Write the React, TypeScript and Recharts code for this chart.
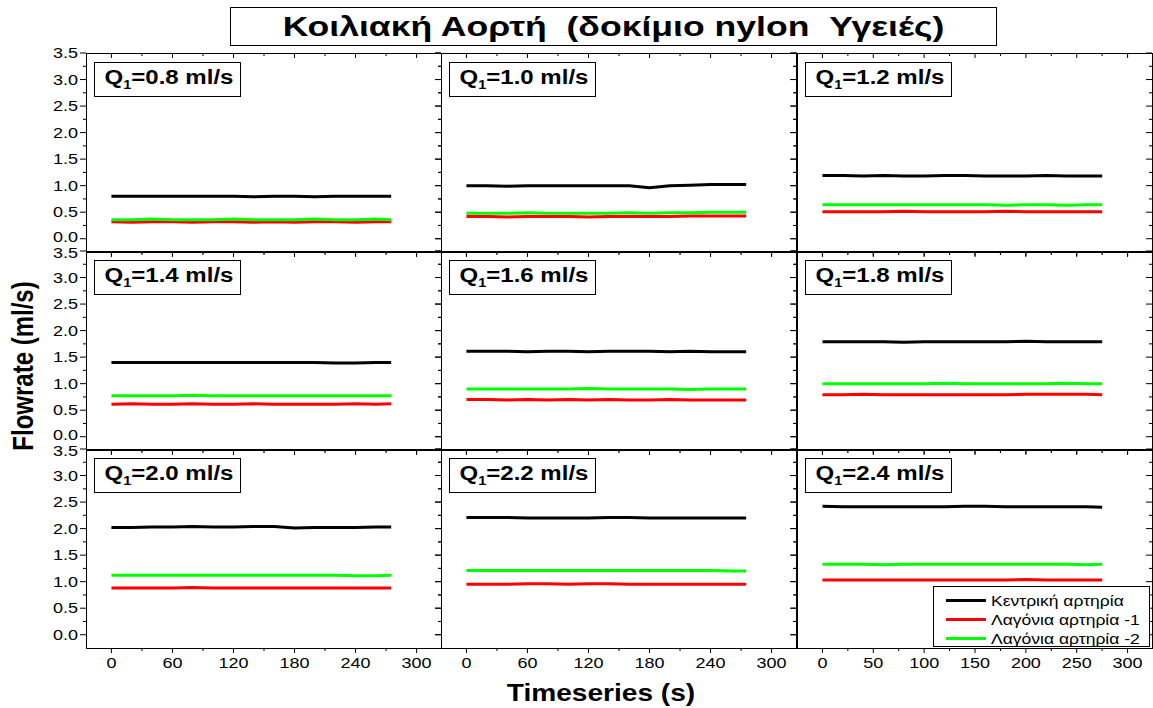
import { LineChart, Line, XAxis, YAxis, Legend } from 'recharts'

// time stamps (s) shared by every panel
const TIME = [0, 20, 40, 60, 80, 100, 120, 140, 160, 180, 200, 220, 240, 260, 275]

const Y_TICKS = [0, 0.25, 0.5, 0.75, 1, 1.25, 1.5, 1.75, 2, 2.25, 2.5, 2.75, 3, 3.25, 3.5]
const X_TICKS_60 = [0, 30, 60, 90, 120, 150, 180, 210, 240, 270, 300]
const X_TICKS_50 = [0, 25, 50, 75, 100, 125, 150, 175, 200, 225, 250, 275, 300]

const SERIES_NAMES = ['Κεντρική αρτηρία', 'Λαγόνια αρτηρία -1', 'Λαγόνια αρτηρία -2']
const Q_LABELS = ['0.8', '1.0', '1.2', '1.4', '1.6', '1.8', '2.0', '2.2', '2.4']

// central artery
const central08 = [0.80, 0.80, 0.80, 0.80, 0.80, 0.80, 0.80, 0.79, 0.80, 0.80, 0.79, 0.80, 0.80, 0.80, 0.80]
const central10 = [1.00, 1.00, 0.99, 1.00, 1.00, 1.00, 1.00, 1.00, 1.00, 0.96, 1.00, 1.01, 1.02, 1.02, 1.02]
const central12 = [1.19, 1.19, 1.18, 1.19, 1.18, 1.18, 1.19, 1.19, 1.18, 1.18, 1.18, 1.19, 1.18, 1.18, 1.18]
const central14 = [1.40, 1.40, 1.40, 1.40, 1.40, 1.40, 1.40, 1.40, 1.40, 1.40, 1.40, 1.39, 1.39, 1.40, 1.40]
const central16 = [1.61, 1.61, 1.61, 1.60, 1.61, 1.61, 1.60, 1.61, 1.61, 1.61, 1.60, 1.61, 1.60, 1.60, 1.60]
const central18 = [1.79, 1.79, 1.79, 1.79, 1.78, 1.79, 1.79, 1.79, 1.79, 1.79, 1.80, 1.79, 1.79, 1.79, 1.79]
const central20 = [2.02, 2.02, 2.03, 2.03, 2.04, 2.03, 2.03, 2.04, 2.04, 2.01, 2.02, 2.02, 2.02, 2.03, 2.03]
const central22 = [2.21, 2.21, 2.21, 2.20, 2.20, 2.20, 2.20, 2.21, 2.21, 2.20, 2.20, 2.20, 2.20, 2.20, 2.20]
const central24 = [2.42, 2.41, 2.41, 2.41, 2.41, 2.41, 2.41, 2.42, 2.42, 2.41, 2.41, 2.41, 2.41, 2.41, 2.40]

// iliac artery 1 (red)
const iliacA08 = [0.32, 0.31, 0.32, 0.32, 0.31, 0.32, 0.32, 0.31, 0.32, 0.31, 0.32, 0.32, 0.31, 0.32, 0.32]
const iliacA10 = [0.42, 0.42, 0.41, 0.42, 0.42, 0.42, 0.41, 0.42, 0.42, 0.42, 0.42, 0.43, 0.43, 0.43, 0.43]
const iliacA12 = [0.51, 0.51, 0.51, 0.51, 0.52, 0.51, 0.51, 0.51, 0.51, 0.52, 0.51, 0.51, 0.51, 0.51, 0.51]
const iliacA14 = [0.61, 0.62, 0.61, 0.61, 0.62, 0.61, 0.61, 0.62, 0.61, 0.61, 0.61, 0.61, 0.62, 0.61, 0.62]
const iliacA16 = [0.70, 0.70, 0.69, 0.70, 0.69, 0.70, 0.69, 0.70, 0.69, 0.69, 0.70, 0.69, 0.69, 0.69, 0.69]
const iliacA18 = [0.79, 0.79, 0.80, 0.79, 0.79, 0.79, 0.79, 0.79, 0.79, 0.79, 0.80, 0.80, 0.80, 0.80, 0.79]
const iliacA20 = [0.88, 0.88, 0.88, 0.88, 0.89, 0.88, 0.88, 0.88, 0.88, 0.88, 0.88, 0.88, 0.88, 0.88, 0.88]
const iliacA22 = [0.95, 0.95, 0.95, 0.96, 0.96, 0.95, 0.96, 0.96, 0.95, 0.95, 0.95, 0.95, 0.95, 0.95, 0.95]
const iliacA24 = [1.03, 1.03, 1.03, 1.03, 1.03, 1.03, 1.03, 1.03, 1.03, 1.03, 1.04, 1.03, 1.03, 1.03, 1.03]

// iliac artery 2 (green)
const iliacB08 = [0.36, 0.36, 0.37, 0.36, 0.36, 0.36, 0.37, 0.36, 0.36, 0.36, 0.37, 0.36, 0.36, 0.37, 0.36]
const iliacB10 = [0.48, 0.48, 0.48, 0.49, 0.48, 0.48, 0.48, 0.48, 0.49, 0.48, 0.49, 0.49, 0.50, 0.50, 0.50]
const iliacB12 = [0.64, 0.64, 0.64, 0.64, 0.64, 0.64, 0.64, 0.64, 0.64, 0.63, 0.64, 0.64, 0.63, 0.64, 0.64]
const iliacB14 = [0.77, 0.77, 0.77, 0.77, 0.78, 0.77, 0.77, 0.77, 0.77, 0.77, 0.77, 0.77, 0.77, 0.77, 0.77]
const iliacB16 = [0.90, 0.90, 0.90, 0.90, 0.90, 0.90, 0.91, 0.90, 0.90, 0.90, 0.90, 0.89, 0.90, 0.90, 0.90]
const iliacB18 = [1.00, 1.00, 1.00, 1.00, 1.00, 1.00, 1.01, 1.00, 1.00, 1.00, 1.00, 1.00, 1.01, 1.00, 1.00]
const iliacB20 = [1.12, 1.12, 1.12, 1.12, 1.12, 1.12, 1.12, 1.12, 1.12, 1.12, 1.12, 1.12, 1.11, 1.11, 1.12]
const iliacB22 = [1.21, 1.21, 1.21, 1.21, 1.21, 1.21, 1.21, 1.21, 1.21, 1.21, 1.21, 1.21, 1.21, 1.20, 1.20]
const iliacB24 = [1.33, 1.33, 1.33, 1.32, 1.33, 1.33, 1.33, 1.33, 1.33, 1.33, 1.33, 1.33, 1.33, 1.32, 1.33]

const CENTRAL = [central08, central10, central12, central14, central16, central18, central20, central22, central24]
const ILIAC_A = [iliacA08, iliacA10, iliacA12, iliacA14, iliacA16, iliacA18, iliacA20, iliacA22, iliacA24]
const ILIAC_B = [iliacB08, iliacB10, iliacB12, iliacB14, iliacB16, iliacB18, iliacB20, iliacB22, iliacB24]

const FONT = '"Liberation Sans", Arial, sans-serif'
const PANEL_W = 355
const PANEL_H = 199
const PAD = 44
const COL_X = [86, 441, 797]
const ROW_Y = [53, 251, 449]
const X_DOMAIN = [-25, 324]
const Y_DOMAIN = [-0.25, 3.5]
const STRETCH = 1.2

function XTick(props: any) {
  const { x, y, payload, step, showLabel } = props
  const v = payload.value
  const major = v % step === 0
  const len = major ? 5 : 3
  return (
    <g>
      <line x1={x} y1={y} x2={x} y2={y + len} stroke="#000" />
      <line x1={x} y1={y - PANEL_H} x2={x} y2={y - PANEL_H + len} stroke="#000" />
      {showLabel && major && (
        <text
          transform={`translate(${x},${y + 15}) scale(${STRETCH},1)`}
          textAnchor="middle"
          dominantBaseline="central"
          fontSize={15}
          fontFamily={FONT}
          fill="#000"
        >
          {v}
        </text>
      )}
    </g>
  )
}

function YTick(props: any) {
  const { x, y, payload, showLabel, row } = props
  const v = payload.value
  const major = Math.abs(v * 2 - Math.round(v * 2)) < 1e-6
  const len = major ? 6 : 3
  // the 0.0 of one row and the 3.5 of the next sit almost on top of each other
  let dy = 0
  if (v === 0 && row < 2) dy = -2
  if (v === 3.5 && row > 0) dy = 2.5
  return (
    <g>
      <line x1={x} y1={y} x2={x - len} y2={y} stroke="#000" />
      <line x1={x + PANEL_W} y1={y} x2={x + PANEL_W - len} y2={y} stroke="#000" />
      {showLabel && major && (
        <text
          transform={`translate(${x - 8},${y + dy}) scale(${STRETCH},1)`}
          textAnchor="end"
          dominantBaseline="central"
          fontSize={15}
          fontFamily={FONT}
          fill="#000"
        >
          {v.toFixed(1)}
        </text>
      )}
    </g>
  )
}

function LegendBox(props: any) {
  const { payload } = props
  return (
    <div
      style={{
        width: 217,
        height: 61,
        boxSizing: 'border-box',
        border: '1px solid #000',
        background: '#fff',
        paddingTop: 4,
      }}
    >
      {(payload || []).map((p: any) => (
        <div key={p.value} style={{ height: 19, display: 'flex', alignItems: 'center' }}>
          <svg width={57} height={19}>
            <line x1={12} y1={9.5} x2={52} y2={9.5} stroke={p.color} strokeWidth={3} />
          </svg>
          <span
            style={{
              fontFamily: FONT,
              fontSize: 14,
              color: '#000',
              whiteSpace: 'pre',
              display: 'inline-block',
              transform: `scaleX(${STRETCH + 0.05})`,
              transformOrigin: 'left center',
            }}
          >
            {p.value}
          </span>
        </div>
      ))}
    </div>
  )
}

function Panel({ index }: { index: number }) {
  const col = index % 3
  const row = Math.floor(index / 3)
  const rows = TIME.map((t, i) => ({
    t,
    central: CENTRAL[index][i],
    iliacA: ILIAC_A[index][i],
    iliacB: ILIAC_B[index][i],
  }))
  const xTicks = col === 2 ? X_TICKS_50 : X_TICKS_60
  const step = col === 2 ? 50 : 60
  const left = COL_X[col]
  const top = ROW_Y[row]

  return (
    <>
      <div style={{ position: 'absolute', left: left - PAD, top: top - PAD }}>
        <LineChart
          width={PANEL_W + 2 * PAD}
          height={PANEL_H + 2 * PAD}
          data={rows}
          margin={{ top: PAD, right: PAD, bottom: PAD - 1, left: PAD - 1 }}
        >
          <XAxis
            dataKey="t"
            type="number"
            domain={X_DOMAIN}
            allowDataOverflow
            ticks={xTicks}
            interval={0}
            height={1}
            tickSize={0}
            tickMargin={0}
            axisLine={false}
            tickLine={false}
            tick={(p: any) => <XTick {...p} step={step} showLabel={row === 2} />}
          />
          <YAxis
            type="number"
            domain={Y_DOMAIN}
            allowDataOverflow
            ticks={Y_TICKS}
            interval={0}
            width={1}
            tickSize={0}
            tickMargin={0}
            axisLine={false}
            tickLine={false}
            tick={(p: any) => <YTick {...p} row={row} showLabel={col === 0} />}
          />
          <Line type="linear" dataKey="central" name={SERIES_NAMES[0]} stroke="#000000" strokeWidth={3} dot={false} isAnimationActive={false} />
          <Line type="linear" dataKey="iliacA" name={SERIES_NAMES[1]} stroke="#ff0000" strokeWidth={3} dot={false} isAnimationActive={false} />
          <Line type="linear" dataKey="iliacB" name={SERIES_NAMES[2]} stroke="#00ff00" strokeWidth={3} dot={false} isAnimationActive={false} />
          {index === 8 && (
            <Legend
              layout="vertical"
              align="center"
              verticalAlign="middle"
              content={(p: any) => <LegendBox {...p} />}
              wrapperStyle={{ left: PAD + 136, top: PAD + 137, width: 217, height: 61 }}
            />
          )}
        </LineChart>
      </div>
      <div
        style={{
          position: 'absolute',
          left,
          top,
          width: PANEL_W + 1,
          height: PANEL_H + 1,
          boxSizing: 'border-box',
          border: '1px solid #000',
          pointerEvents: 'none',
        }}
      />
      <div
        style={{
          position: 'absolute',
          left: left + 8,
          top: top + 9,
          width: 147,
          height: 35,
          boxSizing: 'border-box',
          border: '1.5px solid #000',
          background: '#fff',
          overflow: 'hidden',
        }}
      >
        <div
          style={{
            fontFamily: FONT,
            fontWeight: 'bold',
            fontSize: 20,
            lineHeight: '29px',
            paddingLeft: 8,
            whiteSpace: 'pre',
            transform: `scaleX(${STRETCH})`,
            transformOrigin: 'left center',
          }}
        >
          Q<sub style={{ fontSize: 12, verticalAlign: -5 }}>1</sub>={Q_LABELS[index]} ml/s
        </div>
      </div>
    </>
  )
}

export default function App() {
  return (
    <div
      style={{
        position: 'absolute',
        left: 0,
        top: 0,
        width: 1153,
        height: 708,
        background: '#fff',
        overflow: 'hidden',
        fontFamily: FONT,
      }}
    >
      <div
        style={{
          position: 'absolute',
          left: 230,
          top: 7,
          width: 767,
          height: 39,
          boxSizing: 'border-box',
          border: '1.5px solid #000',
          display: 'flex',
          alignItems: 'center',
          justifyContent: 'center',
        }}
      >
        <span
          style={{
            fontWeight: 'bold',
            fontSize: 28,
            whiteSpace: 'pre',
            display: 'inline-block',
            transform: 'scaleX(1.27)',
          }}
        >
          Κοιλιακή Αορτή  (δοκίμιο nylon  Υγειές)
        </span>
      </div>

      {Q_LABELS.map((_, i) => (
        <Panel key={i} index={i} />
      ))}

      <div
        style={{
          position: 'absolute',
          left: 23,
          top: 366,
          fontWeight: 'bold',
          fontSize: 24,
          lineHeight: 1,
          whiteSpace: 'pre',
          transform: 'translate(-50%,-50%) rotate(-90deg) scale(1,1.25)',
        }}
      >
        Flowrate (ml/s)
      </div>
      <div
        style={{
          position: 'absolute',
          left: 601,
          top: 693,
          fontWeight: 'bold',
          fontSize: 24,
          lineHeight: 1,
          whiteSpace: 'pre',
          transform: 'translate(-50%,-50%) scale(1.17,1)',
        }}
      >
        Timeseries (s)
      </div>
    </div>
  )
}
